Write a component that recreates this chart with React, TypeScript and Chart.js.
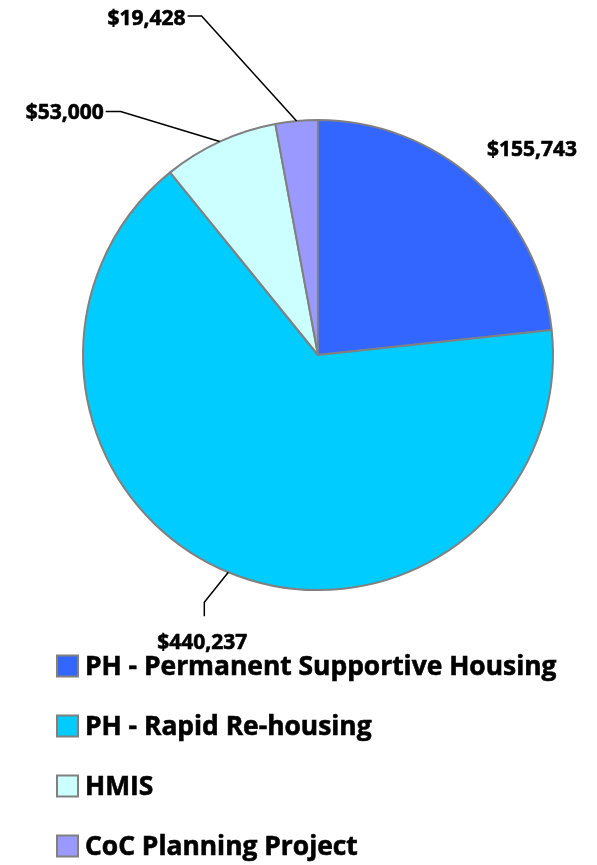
import React, { useEffect, useRef } from "react";
import { Chart, registerables } from "chart.js";

Chart.register(...registerables);

const categories = [
  "PH - Permanent Supportive Housing",
  "PH - Rapid Re-housing",
  "HMIS",
  "CoC Planning Project",
];
const values = [155743, 440237, 53000, 19428];
const valueLabels = ["$155,743", "$440,237", "$53,000", "$19,428"];
const colors = ["#3366FF", "#00CCFF", "#CCFFFF", "#9999FF"];

// label placement relative to the slice's outer-edge anchor point
const labelLayout = [
  { line: [] as number[][], text: [57, -30], align: "center" },
  { line: [[-24, 30], [-24, 44]], text: [-26, 71], align: "center" },
  { line: [[-99, -30], [-114, -30]], text: [-116, -29], align: "right" },
  { line: [[-95, -105], [-109, -105]], text: [-111, -102], align: "right" },
];

const FONT = "'Open Sans', Lato, sans-serif";

function boldText(ctx: any, s: string, x: number, y: number) {
  ctx.fillText(s, x, y);
  ctx.lineWidth = 0.6;
  ctx.strokeStyle = "#000";
  ctx.strokeText(s, x, y);
}

const labelPlugin = {
  id: "valueLabels",
  afterDatasetsDraw(chart: any) {
    const ctx = chart.ctx;
    const meta = chart.getDatasetMeta(0);
    ctx.save();
    meta.data.forEach((arc: any, i: number) => {
      const { x, y, startAngle, endAngle, outerRadius } = arc.getProps(
        ["x", "y", "startAngle", "endAngle", "outerRadius"],
        true
      );
      const mid = (startAngle + endAngle) / 2;
      const ax = x + Math.cos(mid) * outerRadius;
      const ay = y + Math.sin(mid) * outerRadius;
      const lay = labelLayout[i];
      if (lay.line.length) {
        ctx.beginPath();
        ctx.strokeStyle = "#000";
        ctx.lineWidth = 1.5;
        ctx.moveTo(ax, ay);
        lay.line.forEach((p) => ctx.lineTo(ax + p[0], ay + p[1]));
        ctx.stroke();
      }
      ctx.fillStyle = "#000";
      ctx.font = `bold 21px ${FONT}`;
      ctx.textAlign = lay.align;
      ctx.textBaseline = "middle";
      boldText(ctx, valueLabels[i], ax + lay.text[0], ay + lay.text[1]);
    });
    ctx.restore();
  },
};

const legendPlugin = {
  id: "customLegend",
  afterDraw(chart: any) {
    const ctx = chart.ctx;
    const area = chart.chartArea;
    const startY = area.bottom + 75;
    const step = 60;
    const boxX = 57;
    const box = 21;
    ctx.save();
    categories.forEach((c, i) => {
      const cy = startY + i * step;
      ctx.fillStyle = colors[i];
      ctx.fillRect(boxX, cy - box / 2, box, box);
      ctx.strokeStyle = "#808080";
      ctx.lineWidth = 2;
      ctx.strokeRect(boxX, cy - box / 2, box, box);
      ctx.fillStyle = "#000";
      ctx.font = `bold 26.4px ${FONT}`;
      ctx.textAlign = "left";
      ctx.textBaseline = "middle";
      boldText(ctx, c, boxX + box + 7, cy + 1);
    });
    ctx.restore();
  },
};

export default function App() {
  const ref = useRef<HTMLCanvasElement>(null);
  useEffect(() => {
    if (!ref.current) return;
    const chart = new Chart(ref.current, {
      type: "pie",
      data: {
        labels: categories,
        datasets: [
          {
            data: values,
            backgroundColor: colors,
            borderColor: "#808080",
            borderWidth: 2,
          },
        ],
      },
      options: {
        responsive: false,
        animation: false,
        devicePixelRatio: 1,
        layout: { padding: { left: 82, top: 119, right: 43, bottom: 274 } },
        plugins: {
          legend: { display: false },
          tooltip: { enabled: false },
        },
      },
      plugins: [labelPlugin, legendPlugin],
    });
    return () => chart.destroy();
  }, []);
  return (
    <div style={{ position: "absolute", left: 0, top: 0, width: 597, height: 865, background: "#fff" }}>
      <canvas ref={ref} width={597} height={865} />
    </div>
  );
}
